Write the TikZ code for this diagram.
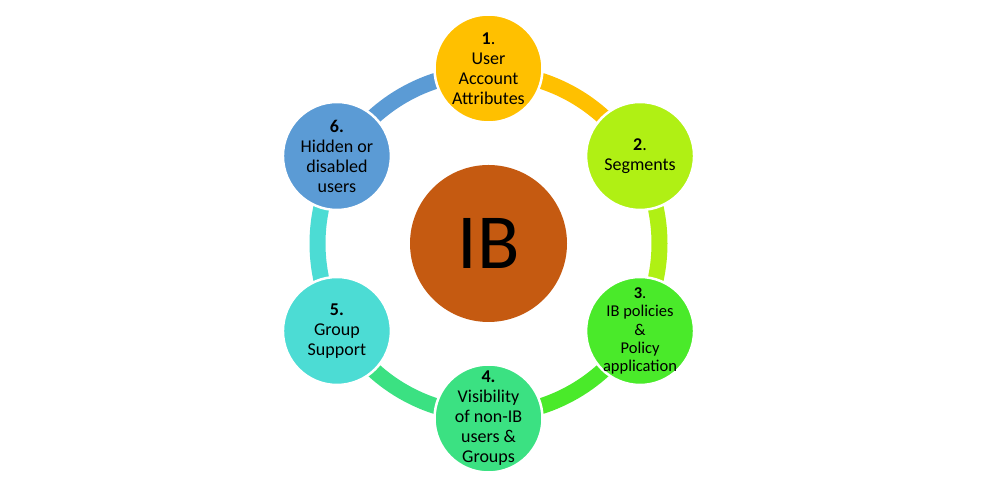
\documentclass[tikz,border=0pt]{standalone}
\usepackage{fontspec}
\setmainfont{Carlito}
\usetikzlibrary{calc}
\definecolor{cone}{HTML}{FFC000}
\definecolor{ctwo}{HTML}{B0F014}
\definecolor{cthree}{HTML}{4AEA2A}
\definecolor{cfour}{HTML}{3BE182}
\definecolor{cfive}{HTML}{4CDCD4}
\definecolor{csix}{HTML}{5B9BD5}
\definecolor{ccenter}{HTML}{C55A11}
\tikzset{
  ringarc/.style={line width=16pt},
  bubble/.style={circle, minimum size=108pt, inner sep=0pt, draw=white, line width=2.5pt},
  bubbletext/.style={align=center, inner sep=0pt, text=black, font=\fontsize{18}{20}\selectfont},
}
\begin{document}
\begin{tikzpicture}[x=1pt,y=1pt]
\useasboundingbox[fill=white] (0,0) rectangle (999,486);
\coordinate (C) at (488.5,242.5);
% arc anchor points
\path (C) ++(90:171pt) coordinate (a1);
\path (C) ++(30:171pt) coordinate (a2);
\path (C) ++(-30:171pt) coordinate (a3);
\path (C) ++(-90:171pt) coordinate (a4);
\path (C) ++(-150:171pt) coordinate (a5);
\path (C) ++(150:171pt) coordinate (a6);
% ring arcs
\draw[ringarc, cone] (a1) arc[start angle=90, end angle=30, radius=171pt];
\draw[ringarc, ctwo] (a2) arc[start angle=30, end angle=-30, radius=171pt];
\draw[ringarc, cthree] (a3) arc[start angle=-30, end angle=-90, radius=171pt];
\draw[ringarc, cfour] (a4) arc[start angle=-90, end angle=-150, radius=171pt];
\draw[ringarc, cfive] (a5) arc[start angle=210, end angle=150, radius=171pt];
\draw[ringarc, csix] (a6) arc[start angle=150, end angle=90, radius=171pt];
% center
\node[circle, minimum size=157pt, inner sep=0pt, fill=ccenter, font=\fontsize{78}{78}\selectfont] (nC) at (C) {IB};
% bubbles
\node[bubble, fill=cone] (n1) at ($(C)+(90:175pt)$) {};
\node[bubble, fill=ctwo] (n2) at ($(C)+(30:175pt)$) {};
\node[bubble, fill=cthree] (n3) at ($(C)+(-30:175pt)$) {};
\node[bubble, fill=cfour] (n4) at ($(C)+(-90:175pt)$) {};
\node[bubble, fill=cfive] (n5) at ($(C)+(-150:175pt)$) {};
\node[bubble, fill=csix] (n6) at ($(C)+(150:175pt)$) {};
% texts
\node[bubbletext] (t1) at (n1) {{\bfseries 1}.\\User\\Account\\Attributes};
\node[bubbletext] (t2) at (n2) {{\bfseries 2}.\\Segments};
\node[bubbletext, font=\fontsize{16.5}{18.3}\selectfont] (t3) at (n3) {{\bfseries 3}.\\IB policies\\\&\\Policy\\application};
\node[bubbletext] (t4) at (n4) {{\bfseries 4.}\\Visibility\\of non-IB\\users \&\\Groups};
\node[bubbletext] (t5) at (n5) {{\bfseries 5.}\\Group\\Support};
\node[bubbletext] (t6) at (n6) {{\bfseries 6.}\\Hidden or\\disabled\\users};
\end{tikzpicture}
\end{document}
